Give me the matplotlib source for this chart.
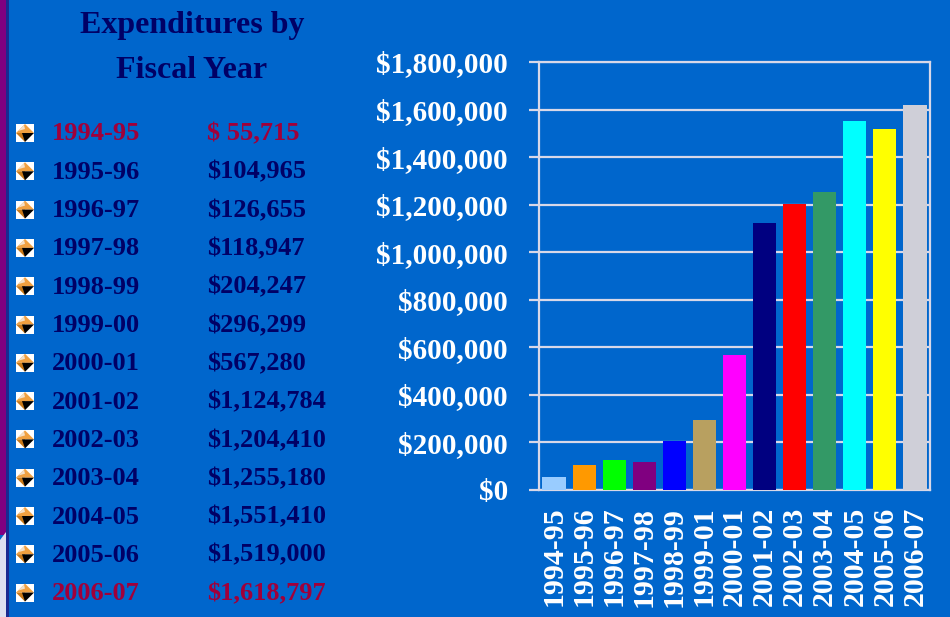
"""
Expenditures by fiscal year: list on the left, colored bar chart on the right.
"""

import matplotlib.pyplot as plt
from matplotlib.patches import Polygon, Rectangle
from matplotlib.ticker import FuncFormatter, MultipleLocator

FISCAL_YEARS = [
    "1994-95", "1995-96", "1996-97", "1997-98", "1998-99", "1999-00",
    "2000-01", "2001-02", "2002-03", "2003-04", "2004-05", "2005-06", "2006-07",
]
# the chart's axis labels differ from the list in one place (1999-01)
BAR_LABELS = [
    "1994-95", "1995-96", "1996-97", "1997-98", "1998-99", "1999-01",
    "2000-01", "2001-02", "2002-03", "2003-04", "2004-05", "2005-06", "2006-07",
]
EXPENDITURES = [
    55715, 104965, 126655, 118947, 204247, 296299, 567280,
    1124784, 1204410, 1255180, 1551410, 1519000, 1618797,
]
AMOUNT_TEXT = [
    "$ 55,715", "$104,965", "$126,655", "$118,947", "$204,247", "$296,299",
    "$567,280", "$1,124,784", "$1,204,410", "$1,255,180", "$1,551,410",
    "$1,519,000", "$1,618,797",
]
HIGHLIGHT = {"1994-95", "2006-07"}

BAR_COLORS = [
    "#99ccff", "#ff9900", "#00ff00", "#800080", "#0000ff", "#b8a060",
    "#ff00ff", "#000080", "#ff0000", "#339966", "#00ffff", "#ffff00", "#cfcfd8",
]

BG = "#0066cc"
NAVY = "#000066"
CRIMSON = "#a0003a"
GRID = "#d8d8e8"
W, H = 950, 617

plt.rcParams["font.family"] = ["Liberation Serif", "DejaVu Serif"]
plt.rcParams["font.weight"] = "bold"

fig = plt.figure(figsize=(W / 100, H / 100), dpi=100, facecolor=BG)

# full-figure overlay in pixel coordinates for the left-hand list
bg = fig.add_axes([0, 0, 1, 1])
bg.set_xlim(0, W)
bg.set_ylim(H, 0)
bg.axis("off")

# left edge decoration
bg.add_patch(Rectangle((0, 0), 6, 535, color="#800080", lw=0))
bg.add_patch(Polygon([(0, 540), (6, 532), (6, H), (0, H)], color="#dde0f0", lw=0))
bg.add_patch(Rectangle((6, 0), 2.5, H, color="#1a2a90", lw=0))

bg.text(192, 25, "Expenditures by", ha="center", va="center", fontsize=23, color=NAVY, fontweight="bold")
bg.text(192, 70, "Fiscal Year", ha="center", va="center", fontsize=23, color=NAVY, fontweight="bold")

row0, step = 133, 38.3
for i, (yr, amt) in enumerate(zip(FISCAL_YEARS, AMOUNT_TEXT)):
    y = row0 + i * step
    color = CRIMSON if yr in HIGHLIGHT else NAVY
    # bullet: white square with a shaded diamond
    bx, s = 16, 18
    h = s / 2
    cx = bx + h
    bg.add_patch(Rectangle((bx, y - h), s, s, color="white", lw=0))
    bg.add_patch(Polygon([(bx, y), (cx, y - h), (bx + s, y)], color="#f0a040", lw=0))
    bg.add_patch(Polygon([(bx + 2, y - 2), (cx - 1, y - h + 1), (cx, y - 4)], color="#f4e0c8", lw=0))
    bg.add_patch(Polygon([(bx, y), (cx, y + h), (cx, y)], color="#c87818", lw=0))
    bg.add_patch(Polygon([(cx - 3, y), (bx + s, y), (cx, y + h)], color="black", lw=0))
    bg.text(52, y + 1, yr, ha="left", va="center", fontsize=19, color=color, fontweight="bold")
    bg.text(207, y + 1, amt, ha="left", va="center", fontsize=19, color=color, fontweight="bold")

# bar chart
ax = fig.add_axes([539 / W, 1 - 490 / H, 391 / W, 428 / H])
ax.set_facecolor(BG)
x = range(len(EXPENDITURES))
ax.bar(x, EXPENDITURES, width=0.77, color=BAR_COLORS, zorder=3)
ax.set_xlim(-0.5, len(EXPENDITURES) - 0.5)
ax.set_ylim(0, 1800000)
ax.yaxis.set_major_locator(MultipleLocator(200000))
ax.yaxis.set_major_formatter(FuncFormatter(lambda v, _: f"${v:,.0f}"))
ax.grid(axis="y", color=GRID, lw=1.6, zorder=1)
for sp in ax.spines.values():
    sp.set_color(GRID)
    sp.set_linewidth(1.6)
ax.set_xticks(list(x))
ax.set_xticklabels(BAR_LABELS, rotation=90)
ax.tick_params(axis="x", length=0, pad=12, labelsize=21.5, labelcolor="white")
ax.tick_params(axis="y", length=7, width=1.6, color=GRID, pad=15.5, labelsize=21, labelcolor="white")
for lbl in ax.get_xticklabels() + ax.get_yticklabels():
    lbl.set_fontweight("bold")

fig.savefig("out.png", dpi=100, facecolor=BG)
